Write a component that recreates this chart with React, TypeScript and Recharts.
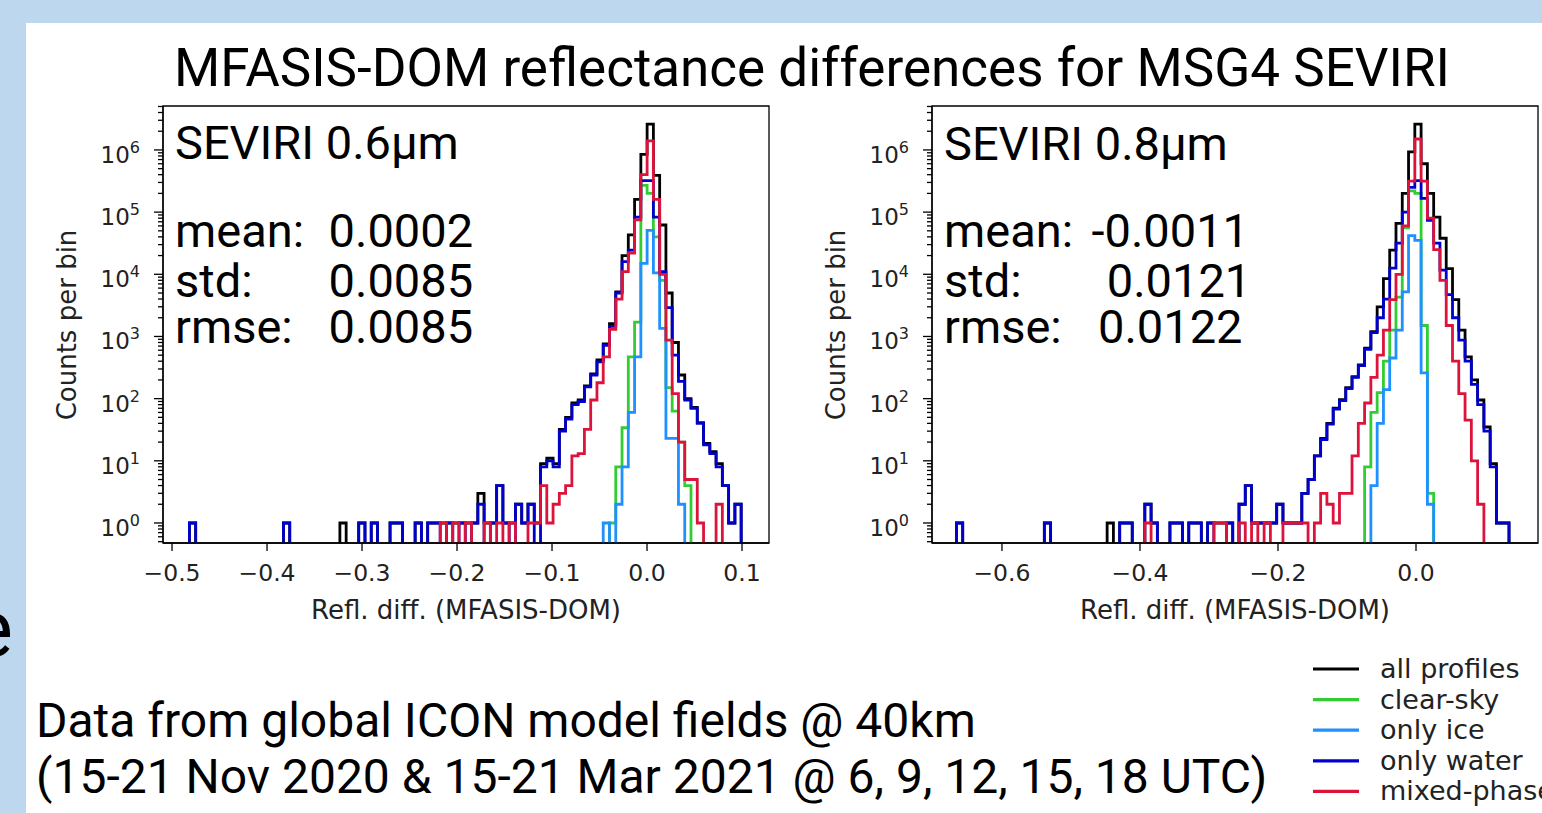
import React from 'react';
import { LineChart, Line, XAxis, YAxis, ReferenceArea } from 'recharts';

// ---------- categories / legend ----------
const seriesKeys = ['all', 'clear', 'ice', 'water', 'mixed'];
const seriesNames = ['all profiles', 'clear-sky', 'only ice', 'only water', 'mixed-phase'];
const seriesColors = ['#000000', '#32cd32', '#1e90ff', '#0000cd', '#dc143c'];

// ---------- histogram bins ----------
const leftBinStart = -0.4817;
const leftBinWidth = 0.0066;
const rightBinStart = -0.666;
const rightBinWidth = 0.0091;

// ---------- tick labels ----------
const leftXTicks = [-0.5, -0.4, -0.3, -0.2, -0.1, 0, 0.1];
const rightXTicks = [-0.6, -0.4, -0.2, 0];
const yMajorTicks = [1, 10, 100, 1000, 10000, 100000, 1000000];
const yMinorMultipliers = [2, 3, 4, 5, 6, 7, 8, 9];

// ---------- counts per bin: SEVIRI 0.6um ----------
const leftAll = [
  1, 0, 0, 0, 0, 0, 0, 0, 0, 0,
  0, 0, 0, 0, 0, 1, 0, 0, 0, 0,
  0, 0, 0, 0, 1, 0, 0, 1, 0, 1,
  0, 0, 1, 1, 0, 0, 1, 0, 1, 1,
  1, 1, 1, 1, 1, 1, 3, 1, 1, 4,
  1, 1, 2, 1, 2, 1, 9, 11, 9, 32,
  50, 85, 95, 160, 250, 420, 760, 1600, 5200, 20000,
  43000, 160000, 850000, 2600000, 390000, 62000, 5000, 800, 240, 100,
  72, 41, 19, 14, 9, 4, 1, 2,
];
const leftClear = [
  0, 0, 0, 0, 0, 0, 0, 0, 0, 0,
  0, 0, 0, 0, 0, 0, 0, 0, 0, 0,
  0, 0, 0, 0, 0, 0, 0, 0, 0, 0,
  0, 0, 0, 0, 0, 0, 0, 0, 0, 0,
  0, 0, 0, 0, 0, 0, 0, 0, 0, 0,
  0, 0, 0, 0, 0, 0, 0, 0, 0, 0,
  0, 0, 0, 0, 0, 0, 0, 1, 8, 34,
  470, 1700, 270000, 200000, 40000, 8000, 150, 63, 20, 4,
  0, 0, 0, 0, 0, 0, 0, 0,
];
const leftIce = [
  0, 0, 0, 0, 0, 0, 0, 0, 0, 0,
  0, 0, 0, 0, 0, 0, 0, 0, 0, 0,
  0, 0, 0, 0, 0, 0, 0, 0, 0, 0,
  0, 0, 0, 0, 0, 0, 0, 0, 0, 0,
  0, 0, 0, 0, 0, 0, 0, 0, 0, 0,
  0, 0, 0, 0, 0, 0, 0, 0, 0, 0,
  0, 0, 0, 0, 0, 0, 1, 0, 2, 8,
  60, 470, 15000, 51000, 10500, 1350, 23, 23, 2, 0,
  0, 0, 0, 0, 0, 0, 0, 0,
];
const leftWater = [
  1, 0, 0, 0, 0, 0, 0, 0, 0, 0,
  0, 0, 0, 0, 0, 1, 0, 0, 0, 0,
  0, 0, 0, 0, 0, 0, 0, 1, 0, 1,
  0, 0, 1, 1, 0, 0, 1, 0, 1, 1,
  0, 1, 0, 1, 0, 1, 2, 0, 1, 4,
  1, 0, 2, 1, 2, 0, 8, 10, 8, 30,
  47, 80, 90, 155, 240, 390, 720, 1450, 5000, 16000,
  24500, 83000, 320000, 320000, 83000, 11000, 2900, 500, 190, 95,
  70, 40, 18, 13, 8, 4, 1, 2,
];
const leftMixed = [
  0, 0, 0, 0, 0, 0, 0, 0, 0, 0,
  0, 0, 0, 0, 0, 0, 0, 0, 0, 0,
  0, 0, 0, 0, 0, 0, 0, 0, 0, 0,
  0, 0, 0, 0, 0, 0, 0, 0, 0, 0,
  1, 0, 1, 0, 1, 0, 0, 1, 0, 1,
  0, 1, 0, 0, 1, 1, 4, 1, 2, 3,
  4, 12, 13, 32, 95, 180, 470, 1300, 4000, 11000,
  22000, 75000, 400000, 1400000, 160000, 10000, 870, 120, 20, 5,
  5, 1, 0, 0, 2, 0, 0, 0,
];

// ---------- counts per bin: SEVIRI 0.8um ----------
const rightAll = [
  1, 0, 0, 0, 0, 0, 0, 0, 0, 0,
  0, 0, 0, 0, 1, 0, 0, 0, 0, 0,
  0, 0, 0, 0, 1, 0, 1, 1, 0, 0,
  2, 1, 0, 0, 1, 1, 0, 1, 1, 0,
  1, 1, 1, 1, 0, 2, 4, 1, 1, 1,
  1, 2, 1, 1, 1, 3, 5, 12, 23, 40,
  70, 96, 150, 225, 350, 650, 1200, 3000, 8500, 24500,
  66000, 200000, 930000, 2600000, 600000, 200000, 83000, 38000, 12300, 3900,
  1260, 470, 200, 95, 35, 9, 1, 1,
];
const rightClear = [
  0, 0, 0, 0, 0, 0, 0, 0, 0, 0,
  0, 0, 0, 0, 0, 0, 0, 0, 0, 0,
  0, 0, 0, 0, 0, 0, 0, 0, 0, 0,
  0, 0, 0, 0, 0, 0, 0, 0, 0, 0,
  0, 0, 0, 0, 0, 0, 0, 0, 0, 0,
  0, 0, 0, 0, 0, 0, 0, 0, 0, 0,
  0, 0, 0, 0, 0, 8, 60, 125, 400, 1260,
  4300, 56000, 220000, 200000, 1500, 3, 0, 0, 0, 0,
  0, 0, 0, 0, 0, 0, 0, 0,
];
const rightIce = [
  0, 0, 0, 0, 0, 0, 0, 0, 0, 0,
  0, 0, 0, 0, 0, 0, 0, 0, 0, 0,
  0, 0, 0, 0, 0, 0, 0, 0, 0, 0,
  0, 0, 0, 0, 0, 0, 0, 0, 0, 0,
  0, 0, 0, 0, 0, 0, 0, 0, 0, 0,
  0, 0, 0, 0, 0, 0, 0, 0, 0, 0,
  0, 0, 0, 0, 0, 0, 4, 40, 140, 450,
  1260, 5200, 42000, 35000, 260, 2, 0, 0, 0, 0,
  0, 0, 0, 0, 0, 0, 0, 0,
];
const rightWater = [
  1, 0, 0, 0, 0, 0, 0, 0, 0, 0,
  0, 0, 0, 0, 1, 0, 0, 0, 0, 0,
  0, 0, 0, 0, 0, 0, 1, 1, 0, 0,
  2, 1, 0, 0, 1, 1, 0, 1, 1, 0,
  1, 0, 0, 1, 0, 2, 4, 1, 1, 1,
  1, 2, 1, 1, 1, 3, 5, 12, 22, 39,
  68, 93, 145, 220, 340, 620, 1150, 2000, 4000, 12600,
  31600, 100000, 250000, 320000, 166000, 74000, 31600, 11700, 4700, 2000,
  870, 400, 170, 80, 30, 8, 1, 1,
];
const rightMixed = [
  0, 0, 0, 0, 0, 0, 0, 0, 0, 0,
  0, 0, 0, 0, 0, 0, 0, 0, 0, 0,
  0, 0, 0, 0, 0, 0, 0, 0, 0, 0,
  1, 0, 0, 0, 0, 0, 0, 0, 0, 0,
  0, 1, 1, 0, 0, 1, 0, 1, 0, 1,
  0, 0, 1, 1, 1, 1, 0, 1, 3, 2,
  1, 3, 3, 12, 40, 85, 220, 500, 1260, 3900,
  10000, 60000, 316000, 1500000, 316000, 80000, 25000, 8000, 1500, 400,
  120, 45, 10, 2, 0, 0, 0, 0,
];

// ---------- layout constants ----------
const Y_DOMAIN: [number, number] = [0.4764, 5.09e6];
const LEFT_X_DOMAIN: [number, number] = [-0.5095, 0.1284];
const RIGHT_X_DOMAIN: [number, number] = [-0.7014, 0.1768];
const FLOOR = 0.05; // empty bins are drawn below the axis and clipped

const yTicks: number[] = [];
yMajorTicks.concat([0.1]).forEach((m) => {
  yMinorMultipliers.forEach((f) => {
    const v = m * f;
    if (v >= Y_DOMAIN[0] && v <= Y_DOMAIN[1]) yTicks.push(v);
  });
});
yMajorTicks.forEach((v) => yTicks.push(v));
yTicks.sort((a, b) => a - b);

function buildRows(start: number, width: number, series: number[][]) {
  const n = series[0].length;
  const rows: any[] = [];
  const first: any = { x: start - width };
  seriesKeys.forEach((k) => (first[k] = FLOOR));
  rows.push(first);
  for (let i = 0; i <= n; i++) {
    const row: any = { x: start + i * width };
    seriesKeys.forEach((k, s) => {
      const v = i < n ? series[s][i] : 0;
      row[k] = v > 0 ? v : FLOOR;
    });
    rows.push(row);
  }
  return rows;
}

const leftRows = buildRows(leftBinStart, leftBinWidth, [leftAll, leftClear, leftIce, leftWater, leftMixed]);
const rightRows = buildRows(rightBinStart, rightBinWidth, [rightAll, rightClear, rightIce, rightWater, rightMixed]);

const AXIS_FONT = '"DejaVu Sans", sans-serif';
const TEXT_FONT = 'Roboto, "Noto Sans", sans-serif';

const fmtX = (v: number) => {
  if (Math.abs(v) < 1e-9) return '0.0';
  return (v < 0 ? '\u2212' : '') + Math.abs(v).toFixed(1);
};

const XTick = (props: any) => {
  const { x, y, payload } = props;
  return (
    <text x={x} y={y + 30} textAnchor="middle" fontFamily={AXIS_FONT} fontSize={23.5} fill="#222">
      {fmtX(payload.value)}
    </text>
  );
};

const YTick = (props: any) => {
  const { x, y, payload } = props;
  const v = payload.value as number;
  const lg = Math.log10(v);
  const exp = Math.round(lg);
  const major = Math.abs(lg - exp) < 1e-6;
  return (
    <g>
      <line x1={x - (major ? 9 : 5)} x2={x} y1={y} y2={y} stroke="#000" strokeWidth={1.3} />
      {major && (
        <text x={x - 23} y={y + 13} textAnchor="end" fontFamily={AXIS_FONT} fontSize={23} fill="#222">
          10
          <tspan dy={-10} fontSize={16}>
            {exp}
          </tspan>
        </text>
      )}
    </g>
  );
};

function HistPanel(props: {
  rows: any[];
  xDomain: [number, number];
  xTicks: number[];
  width: number;
  height: number;
  margin: { top: number; right: number; bottom: number; left: number };
}) {
  const { rows, xDomain, xTicks, width, height, margin } = props;
  return (
    <LineChart width={width} height={height} data={rows} margin={margin}>
      <XAxis
        dataKey="x"
        type="number"
        domain={xDomain}
        allowDataOverflow
        ticks={xTicks}
        interval={0}
        tick={XTick}
        tickSize={8}
        tickMargin={0}
        height={40}
        axisLine={{ stroke: '#000', strokeWidth: 1.3 }}
        tickLine={{ stroke: '#000', strokeWidth: 1.3 }}
      />
      <YAxis
        type="number"
        scale="log"
        domain={Y_DOMAIN}
        allowDataOverflow
        ticks={yTicks}
        interval={0}
        tick={YTick}
        tickLine={false}
        tickSize={0}
        tickMargin={0}
        width={60}
        axisLine={{ stroke: '#000', strokeWidth: 1.3 }}
      />
      {seriesKeys.map((k, i) => (
        <Line
          key={k}
          type="stepAfter"
          dataKey={k}
          stroke={seriesColors[i]}
          strokeWidth={2.8}
          dot={false}
          activeDot={false}
          isAnimationActive={false}
        />
      ))}
      <ReferenceArea
        x1={xDomain[0]}
        x2={xDomain[1]}
        y1={Y_DOMAIN[0]}
        y2={Y_DOMAIN[1]}
        fill="none"
        fillOpacity={0}
        stroke="#000"
        strokeWidth={1.3}
      />
    </LineChart>
  );
}

const statLabels = ['mean:', 'std:', 'rmse:'];
const leftStats = ['0.0002', '0.0085', '0.0085'];
const rightStats = ['-0.0011', '0.0121', '0.0122'];
const statBaselines = [247, 297, 343];
const leftStatX = [328.6, 328.6, 328.6];
const rightStatX = [1091.5, 1106.8, 1098];

export default function App() {
  return (
    <div
      style={{
        position: 'absolute',
        left: 0,
        top: 0,
        width: 1542,
        height: 813,
        overflow: 'hidden',
        background: '#BDD7EE',
      }}
    >
      <div style={{ position: 'absolute', left: 26, top: 23, width: 1516, height: 790, background: '#fff' }} />
      <div style={{ position: 'absolute', left: 0, top: 0 }}>
        <HistPanel
          rows={leftRows}
          xDomain={LEFT_X_DOMAIN}
          xTicks={leftXTicks}
          width={800}
          height={660}
          margin={{ top: 106, right: 31, bottom: 77, left: 103 }}
        />
      </div>
      <div style={{ position: 'absolute', left: 800, top: 0 }}>
        <HistPanel
          rows={rightRows}
          xDomain={RIGHT_X_DOMAIN}
          xTicks={rightXTicks}
          width={742}
          height={660}
          margin={{ top: 106, right: 4, bottom: 77, left: 72 }}
        />
      </div>
      <svg
        width={1542}
        height={813}
        style={{ position: 'absolute', left: 0, top: 0, pointerEvents: 'none' }}
      >
        <text x={13} y={656} textAnchor="end" fontFamily={TEXT_FONT} fontSize={80} fill="#000">
          e
        </text>
        <text x={812} y={86} textAnchor="middle" fontFamily={TEXT_FONT} fontSize={53} fill="#000">
          MFASIS-DOM reflectance differences for MSG4 SEVIRI
        </text>

        {/* left panel annotations */}
        <text x={175} y={159} fontFamily={TEXT_FONT} fontSize={47} fill="#000">
          SEVIRI 0.6µm
        </text>
        {statLabels.map((s, i) => (
          <text key={'ll' + i} x={175} y={statBaselines[i]} fontFamily={TEXT_FONT} fontSize={47} fill="#000">
            {s}
          </text>
        ))}
        {leftStats.map((s, i) => (
          <text key={'lv' + i} x={leftStatX[i]} y={statBaselines[i]} fontFamily={TEXT_FONT} fontSize={47} fill="#000">
            {s}
          </text>
        ))}

        {/* right panel annotations */}
        <text x={944} y={160} fontFamily={TEXT_FONT} fontSize={47} fill="#000">
          SEVIRI 0.8µm
        </text>
        {statLabels.map((s, i) => (
          <text key={'rl' + i} x={944} y={statBaselines[i]} fontFamily={TEXT_FONT} fontSize={47} fill="#000">
            {s}
          </text>
        ))}
        {rightStats.map((s, i) => (
          <text key={'rv' + i} x={rightStatX[i]} y={statBaselines[i]} fontFamily={TEXT_FONT} fontSize={47} fill="#000">
            {s}
          </text>
        ))}

        {/* axis titles */}
        <text
          x={67}
          y={325}
          transform="rotate(-90 67 325)"
          textAnchor="middle"
          dominantBaseline="central"
          fontFamily={AXIS_FONT}
          fontSize={26}
          fill="#222"
        >
          Counts per bin
        </text>
        <text
          x={836}
          y={325}
          transform="rotate(-90 836 325)"
          textAnchor="middle"
          dominantBaseline="central"
          fontFamily={AXIS_FONT}
          fontSize={26}
          fill="#222"
        >
          Counts per bin
        </text>
        <text x={466} y={619} textAnchor="middle" fontFamily={AXIS_FONT} fontSize={26} fill="#222">
          Refl. diff. (MFASIS-DOM)
        </text>
        <text x={1235} y={619} textAnchor="middle" fontFamily={AXIS_FONT} fontSize={26} fill="#222">
          Refl. diff. (MFASIS-DOM)
        </text>

        {/* footnote */}
        <text x={36} y={737} fontFamily={TEXT_FONT} fontSize={48} fill="#000">
          Data from global ICON model fields @ 40km
        </text>
        <text x={36} y={793} fontFamily={TEXT_FONT} fontSize={48} fill="#000">
          (15-21 Nov 2020 &amp; 15-21 Mar 2021 @ 6, 9, 12, 15, 18 UTC)
        </text>

        {/* legend */}
        {seriesNames.map((name, i) => {
          const ly = 669 + i * 30.6;
          return (
            <g key={name}>
              <line x1={1313} x2={1359} y1={ly} y2={ly} stroke={seriesColors[i]} strokeWidth={3.2} />
              <text x={1380} y={ly + 9} fontFamily={AXIS_FONT} fontSize={27} fill="#222">
                {name}
              </text>
            </g>
          );
        })}
      </svg>
    </div>
  );
}
